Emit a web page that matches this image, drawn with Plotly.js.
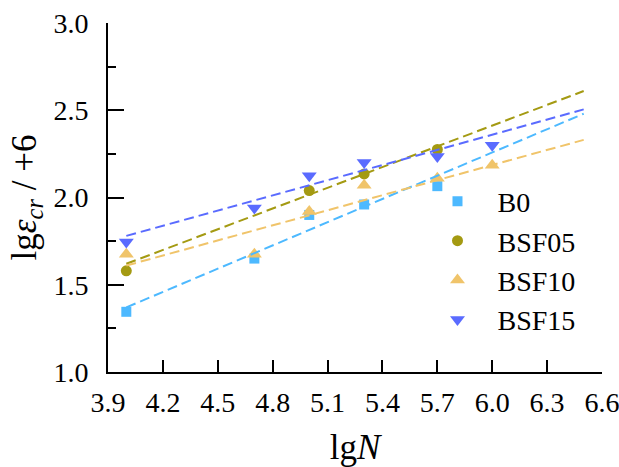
<!DOCTYPE html>
<html>
<head>
<meta charset="utf-8">
<script src="https://cdn.plot.ly/plotly-3.0.1.min.js"></script>
<style>html,body{margin:0;padding:0;background:#fff;}#chart{width:619px;height:467px;}</style>
</head>
<body>
<div id="chart"></div>
<script>
// Measured data (lgN, lg eps_cr + 6)
const seriesNames = ["B0", "BSF05", "BSF10", "BSF15"];
const b0X = [4.0, 4.7, 5.0, 5.3, 5.7];
const b0Y = [1.345, 1.65, 1.90, 1.96, 2.065];
const bsf05X = [4.0, 5.0, 5.3, 5.7];
const bsf05Y = [1.58, 2.04, 2.135, 2.275];
const bsf10X = [4.0, 4.7, 5.0, 5.3, 5.7, 6.0];
const bsf10Y = [1.675, 1.675, 1.92, 2.07, 2.11, 2.185];
const bsf15X = [4.0, 4.7, 5.0, 5.3, 5.7, 6.0];
const bsf15Y = [1.745, 1.94, 2.125, 2.20, 2.235, 2.30];
// Fitted lines (end points)
const fitX = [4.0, 6.5];
const b0FitY = [1.37, 2.48];
const bsf05FitY = [1.62, 2.61];
const bsf10FitY = [1.61, 2.33];
const bsf15FitY = [1.78, 2.505];
const xTickVals = [3.9, 4.2, 4.5, 4.8, 5.1, 5.4, 5.7, 6.0, 6.3, 6.6];
const xTickText = ["3.9", "4.2", "4.5", "4.8", "5.1", "5.4", "5.7", "6.0", "6.3", "6.6"];
const yTickVals = [1.0, 1.5, 2.0, 2.5, 3.0];
const yTickText = ["1.0", "1.5", "2.0", "2.5", "3.0"];

const colors = ["#4DB9FF", "#A49A12", "#F0C46A", "#5A6BFF"];
const symbols = ["square", "circle", "triangle-up", "triangle-down"];
const sizes = [10, 11, 13, 13];
const ptsX = [b0X, bsf05X, bsf10X, bsf15X];
const ptsY = [b0Y, bsf05Y, bsf10Y, bsf15Y];
const fitsY = [b0FitY, bsf05FitY, bsf10FitY, bsf15FitY];

const traces = [];
for (let i = 0; i < 4; i++) {
  traces.push({
    x: ptsX[i], y: ptsY[i], type: "scatter", mode: "markers", name: seriesNames[i],
    marker: {symbol: symbols[i], size: sizes[i], color: colors[i], line: {width: 0}},
    cliponaxis: false
  });
}
for (let i = 0; i < 4; i++) {
  traces.push({
    x: fitX, y: fitsY[i], type: "scatter", mode: "lines", showlegend: false, hoverinfo: "skip",
    line: {color: colors[i], width: 2, dash: "10px,5px"}
  });
}

const serif = "'Liberation Serif', 'Times New Roman', serif";
const layout = {
  width: 619, height: 467,
  margin: {l: 108, r: 17, t: 23, b: 95},
  paper_bgcolor: "#fff", plot_bgcolor: "#fff",
  font: {family: serif, color: "#000", size: 28},
  showlegend: true,
  legend: {x: 0.6265, y: 0.56, xanchor: "left", yanchor: "top", bgcolor: "rgba(0,0,0,0)",
           itemwidth: 70,
           font: {family: serif, size: 28, color: "#000"}},
  xaxis: {
    range: [3.8999, 6.6001], tickmode: "array", tickvals: xTickVals, ticktext: xTickText,
    ticks: "inside", ticklen: 12, tickwidth: 2, tickcolor: "#000",
    showline: true, linecolor: "#000", linewidth: 2, showgrid: false, zeroline: false,
    tickfont: {family: serif, size: 28}, ticklabelstandoff: 4, ticklabeloverflow: "allow",
    title: {text: "lg<i>N</i>", font: {family: serif, size: 35}, standoff: 22}
  },
  yaxis: {
    range: [1.0, 3.0], tickmode: "array", tickvals: yTickVals, ticktext: yTickText,
    ticks: "inside", ticklen: 16, tickwidth: 2, tickcolor: "#000",
    minor: {dtick: 0.25, tick0: 1.0, ticks: "inside", ticklen: 8, tickwidth: 2, tickcolor: "#000", showgrid: false},
    showline: true, linecolor: "#000", linewidth: 2, showgrid: false, zeroline: false,
    tickfont: {family: serif, size: 28}, ticklabelstandoff: 12, ticklabeloverflow: "allow",
    title: {text: "lg<i>ε</i><sub><i>cr</i></sub> / +6", font: {family: serif, size: 35}, standoff: 6}
  }
};
Plotly.newPlot("chart", traces, layout, {displayModeBar: false, staticPlot: true});
</script>
</body>
</html>
